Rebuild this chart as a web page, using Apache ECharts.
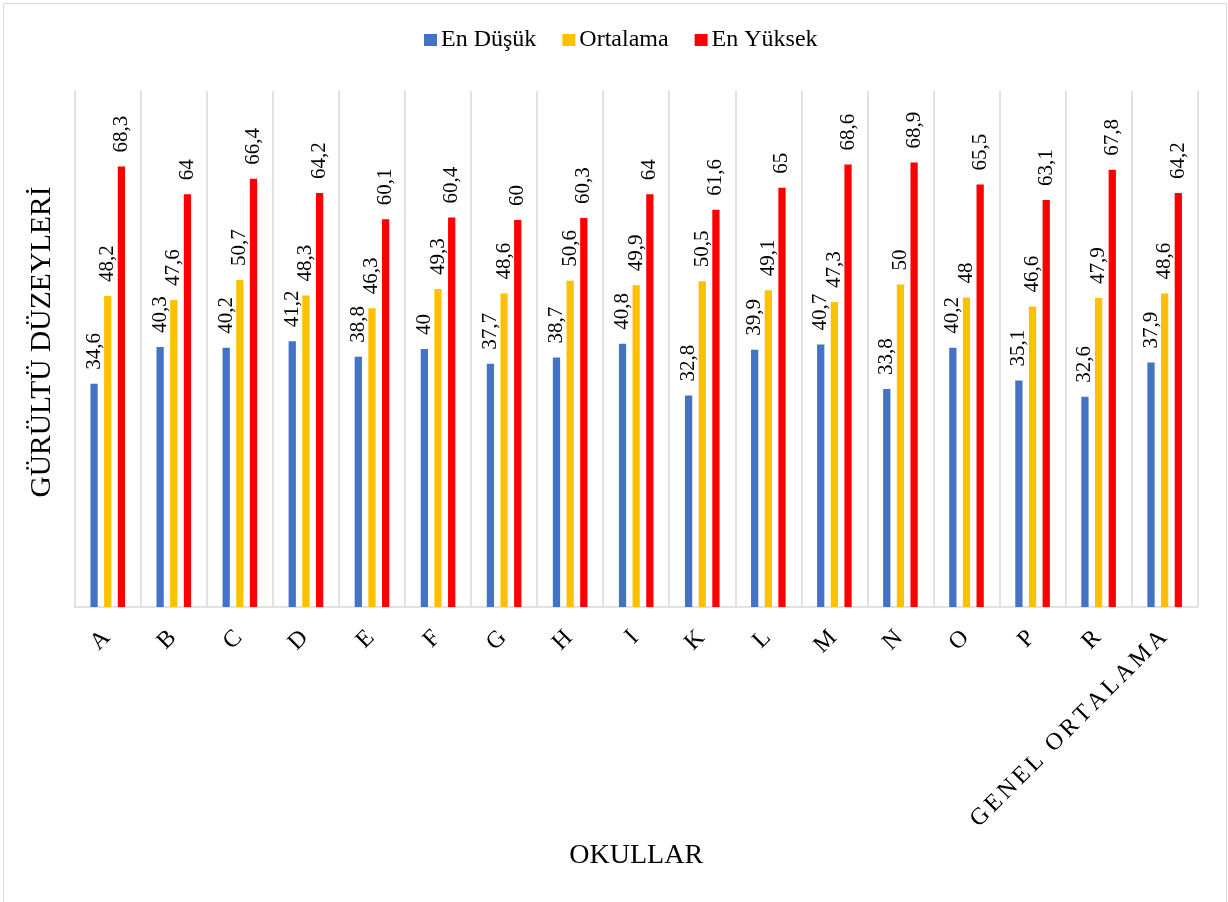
<!DOCTYPE html>
<html>
<head>
<meta charset="utf-8">
<script src="https://cdn.jsdelivr.net/npm/echarts@6/dist/echarts.min.js"></script>
<style>
  html, body { margin: 0; padding: 0; background: #fff; }
  #chart { width: 1228px; height: 902px; }
</style>
</head>
<body>
<div id="chart"></div>
<script>
// Schools and noise levels (dB)
const categories = ['A', 'B', 'C', 'D', 'E', 'F', 'G', 'H', 'I', 'K', 'L', 'M', 'N', 'O', 'P', 'R', 'GENEL ORTALAMA'];
const enDusuk = [34.6, 40.3, 40.2, 41.2, 38.8, 40, 37.7, 38.7, 40.8, 32.8, 39.9, 40.7, 33.8, 40.2, 35.1, 32.6, 37.9];
const ortalama = [48.2, 47.6, 50.7, 48.3, 46.3, 49.3, 48.6, 50.6, 49.9, 50.5, 49.1, 47.3, 50, 48, 46.6, 47.9, 48.6];
const enYuksek = [68.3, 64, 66.4, 64.2, 60.1, 60.4, 60, 60.3, 64, 61.6, 65, 68.6, 68.9, 65.5, 63.1, 67.8, 64.2];
const seriesNames = ['En Düşük', 'Ortalama', 'En Yüksek'];
const colors = ['#4472C4', '#FFC000', '#FF0000'];

const FONT = "'Times New Roman', 'Liberation Serif', serif";

const chart = echarts.init(document.getElementById('chart'), null, { renderer: 'canvas' });

const valueLabel = {
  show: true,
  position: 'top',
  distance: 14,
  rotate: 90,
  align: 'left',
  verticalAlign: 'middle',
  fontFamily: FONT,
  fontSize: 21,
  color: '#000',
  formatter: p => String(p.value).replace('.', ',')
};

function barSeries(name, data, color) {
  return {
    name: name,
    type: 'bar',
    data: data,
    barWidth: '11%',
    barGap: '88%',
    itemStyle: { color: color },
    label: valueLabel
  };
}

// slightly spaced category text, one rich segment per character
function spaced(text) {
  return text.split('').map(ch => '{c|' + ch + '}').join('');
}

chart.setOption({
  animation: false,
  backgroundColor: '#fff',
  graphic: [{
    type: 'rect',
    shape: { x: 3.5, y: 3.5, width: 1223, height: 920 },
    style: { fill: 'none', stroke: '#d9d9d9', lineWidth: 1 },
    silent: true
  }],
  legend: {
    data: seriesNames,
    left: 424,
    top: 28,
    padding: 0,
    itemWidth: 13,
    itemHeight: 12,
    itemGap: 26,
    icon: 'rect',
    textStyle: { fontFamily: FONT, fontSize: 24, color: '#000', padding: [0, 0, 0, -1] }
  },
  grid: { left: 74.7, right: 30.3, top: 91, bottom: 295 },
  xAxis: {
    type: 'category',
    data: categories,
    boundaryGap: true,
    name: 'OKULLAR',
    nameLocation: 'middle',
    nameGap: 235,
    nameTextStyle: { fontFamily: FONT, fontSize: 28, color: '#000' },
    axisLine: { lineStyle: { color: '#d9d9d9', width: 1.5 } },
    axisTick: { show: false },
    splitLine: { show: true, lineStyle: { color: '#d9d9d9', width: 1.5 } },
    axisLabel: {
      interval: 0,
      rotate: 45,
      margin: 26,
      formatter: v => spaced(v),
      rich: { c: { fontFamily: FONT, fontSize: 24, color: '#000', padding: [0, 1.8, 0, 1.8] } }
    }
  },
  yAxis: {
    type: 'value',
    min: 0,
    max: 80,
    interval: 10,
    name: 'GÜRÜLTÜ DÜZEYLERİ',
    nameLocation: 'middle',
    nameGap: 17,
    nameTextStyle: { fontFamily: FONT, fontSize: 29.5, color: '#000', padding: [0, 0, 0, 14] },
    axisLine: { show: false },
    axisTick: { show: false },
    axisLabel: { show: false },
    splitLine: { show: false }
  },
  series: [
    barSeries(seriesNames[0], enDusuk, colors[0]),
    barSeries(seriesNames[1], ortalama, colors[1]),
    barSeries(seriesNames[2], enYuksek, colors[2])
  ]
});
</script>
</body>
</html>
